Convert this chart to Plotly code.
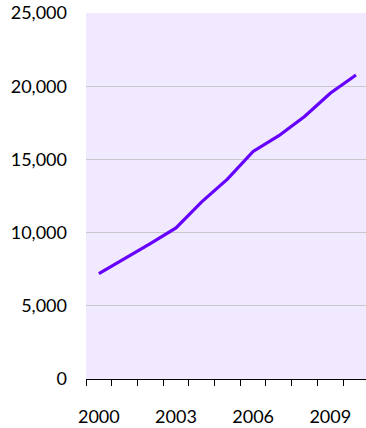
import plotly.graph_objects as go

years = list(range(2000, 2011))
values = [7200, 8200, 9250, 10320, 12100, 13650, 15540, 16620, 17930, 19520, 20770]
x_tick_labels = ["2000", "2003", "2006", "2009"]
y_tick_vals = [0, 5000, 10000, 15000, 20000, 25000]
y_tick_labels = ["0", "5,000", "10,000", "15,000", "20,000", "25,000"]

xi = list(range(len(years)))

fig = go.Figure()
fig.add_trace(go.Scatter(
    x=xi, y=values, mode="lines",
    line=dict(color="#6600ff", width=3.2),
    hoverinfo="skip",
))

fig.update_layout(
    width=366, height=428,
    margin=dict(l=86, r=0, t=13, b=49),
    paper_bgcolor="white",
    plot_bgcolor="#f1e9ff",
    showlegend=False,
    font=dict(family="Lato", size=18, color="black"),
)
fig.update_xaxes(
    range=[-0.5, 10.39],
    automargin=False,
    tickmode="array",
    tickvals=[years.index(int(t)) for t in x_tick_labels],
    ticktext=x_tick_labels,
    ticks="",
    ticklabelstandoff=21,
    showgrid=False,
    showline=True, linecolor="black", linewidth=1,
    zeroline=False,
    minor=dict(
        tickmode="array",
        tickvals=[i - 0.5 for i in range(len(years) + 1)],
        ticks="outside", ticklen=6, tickcolor="black", tickwidth=1,
        showgrid=False,
    ),
)
fig.update_yaxes(
    range=[0, 25000],
    automargin=False,
    tickmode="array",
    tickvals=y_tick_vals,
    ticktext=y_tick_labels,
    showgrid=True, gridcolor="#c8c8c8", gridwidth=1,
    zeroline=False,
    showline=False,
    ticks="",
    ticklabelstandoff=18,
)

fig.write_html("out.html")
